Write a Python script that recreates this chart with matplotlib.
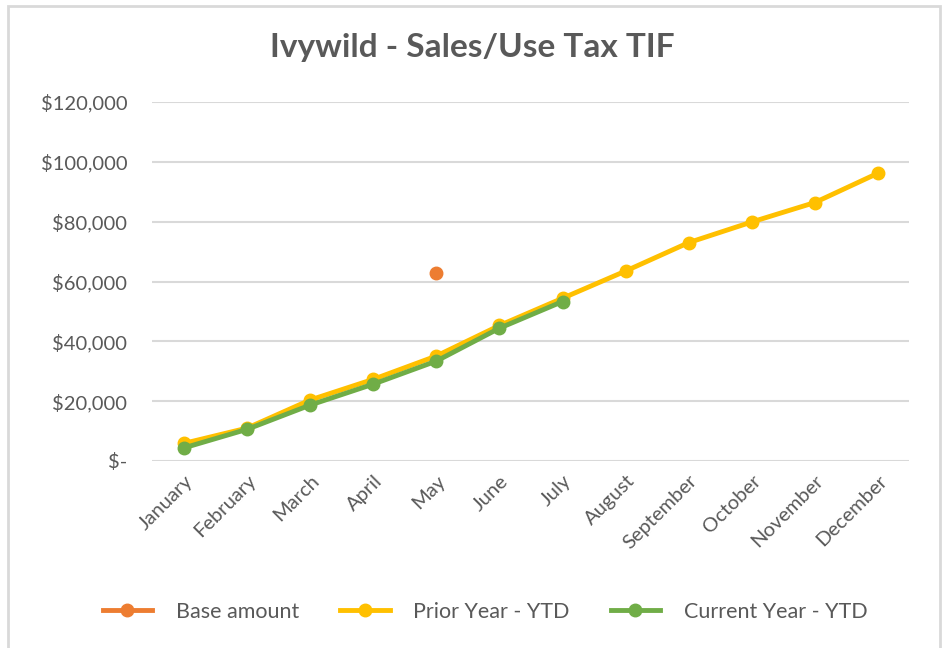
import numpy as np
from matplotlib import pyplot as plt
from matplotlib.patches import Rectangle

months = ["January", "February", "March", "April", "May", "June", "July",
          "August", "September", "October", "November", "December"]
prior_ytd = [5900, 11000, 20400, 27300, 35100, 45300, 54400,
             63500, 73000, 79900, 86400, 96200]
current_ytd = [4400, 10600, 18700, 25700, 33400, 44400, 53300]
base_month = "May"
base_amount = 62800

y_ticks = [0, 20000, 40000, 60000, 80000, 100000, 120000]
y_labels = ["$-", "$20,000", "$40,000", "$60,000", "$80,000", "$100,000", "$120,000"]

plt.rcParams['font.family'] = ['Lato', 'DejaVu Sans']
text_color = "#595959"
grid_color = "#d9d9d9"

fig = plt.figure(figsize=(9.45, 6.48), dpi=100)
ax = fig.add_axes([152.5 / 945, 1 - 461 / 648, (909.5 - 152.5) / 945, (461 - 102) / 648])

x = np.arange(len(months))
base_x = months.index(base_month)

ax.plot([base_x], [base_amount], color="#ed7d31", marker="o", ms=9,
        linestyle="none", label="Base amount")
ax.plot(x, prior_ytd, color="#ffc000", lw=3.5, marker="o", ms=9,
        label="Prior Year - YTD")
ax.plot(x[:len(current_ytd)], current_ytd, color="#70ad47", lw=3.5, marker="o",
        ms=9, label="Current Year - YTD")

ax.set_xlim(-0.5, len(months) - 0.5)
ax.set_ylim(0, 120000)
ax.set_yticks(y_ticks)
ax.set_yticklabels(y_labels)
ax.set_xticks(x)
ax.set_xticklabels(months, rotation=45, ha="right", rotation_mode="anchor")
ax.tick_params(length=0, labelsize=14.5, colors=text_color)
ax.tick_params(axis="y", pad=18)
ax.tick_params(axis="x", pad=8)
ax.grid(axis="y", color=grid_color, lw=1.5)
ax.set_axisbelow(True)
for s in ax.spines.values():
  s.set_visible(False)

fig.text(0.5, 1 - 47 / 648, "Ivywild - Sales/Use Tax TIF", ha="center", va="center",
         fontsize=24, fontweight="bold", color=text_color)

handles, labels = ax.get_legend_handles_labels()
handles[0] = plt.Line2D([], [], color="#ed7d31", lw=3.5, marker="o", ms=9)
fig.legend(handles, labels, loc="center", bbox_to_anchor=(485 / 945, 1 - 612 / 648),
           ncol=3, frameon=False, fontsize=15.5, labelcolor=text_color,
           handlelength=2.3, handletextpad=1.1, columnspacing=1.9)

fig.patches.append(Rectangle((8 / 945, -0.01), 932 / 945, 1 - 6 / 648 + 0.01,
                             transform=fig.transFigure, fill=False,
                             edgecolor=grid_color, lw=2))

fig.savefig("out.png", dpi=100)
